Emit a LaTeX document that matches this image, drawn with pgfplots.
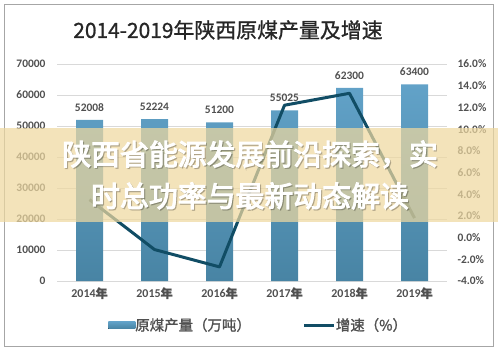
\documentclass[border=0pt]{standalone}
\usepackage{pgfplots}
\pgfplotsset{compat=1.18}
\usepackage{fontspec}
\setmainfont{Carlito}
\newfontfamily\cjk{Noto Sans CJK SC}
\newfontfamily\cjkb{Noto Sans CJK SC}[FakeBold=1.5]
\newfontfamily\cjkt{Noto Sans CJK SC}[FakeBold=1]
\newfontfamily\cjkheavy{Noto Sans CJK SC}[FakeBold=3.5]
\newcommand\lp{\makebox[1em][r]{（}}
\newcommand\rp{\makebox[1em][l]{）}}
\newcommand\lf{\cjkb\fontsize{14.5}{16}\selectfont}
\definecolor{bartop}{RGB}{98,162,200}
\definecolor{barbot}{RGB}{72,132,164}
\definecolor{linec}{RGB}{17,77,101}
\definecolor{lab}{RGB}{80,80,80}
\definecolor{gridc}{RGB}{217,217,217}
\definecolor{band}{RGB}{238,216,160}
\begin{document}
\begin{tikzpicture}[x=1bp,y=1bp]
\path (0,0) rectangle (498,351);
\draw[black!35] (4.5,5) rectangle (493.5,347);
\node[font=\cjkt\fontsize{21}{24}\selectfont, text=black!85] at (228,321) {2014-2019年陕西原煤产量及增速};
\begin{axis}[at={(57bp,70bp)}, anchor=south west, scale only axis,
  width=390bp, height=217bp,
  xmin=-0.5, xmax=5.5, ymin=0, ymax=70000,
  ytick={0,10000,...,70000},
  scaled y ticks=false,
  xtick={0,...,5},
  xticklabels={2014{\cjkb 年},2015{\cjkb 年},2016{\cjkb 年},2017{\cjkb 年},2018{\cjkb 年},2019{\cjkb 年}},
  /pgf/number format/assume math mode=true,
  /pgf/number format/1000 sep={},
  axis line style={draw=none},
  major tick length=0pt,
  ymajorgrids, grid style={gridc, line width=0.8bp},
  yticklabel style={font=\bfseries\fontsize{11.5}{13}\selectfont, text=lab, xshift=-8bp},
  xticklabel style={font=\bfseries\fontsize{12}{14}\selectfont, text=lab, yshift=-3bp},
  nodes near coords,
  every node near coord/.append style={font=\bfseries\fontsize{11.5}{13}\selectfont, text=lab, anchor=center, yshift=12.5bp},
  legend style={at={(0.517,-0.203)}, anchor=center, legend columns=2, draw=none, fill=none,
    font=\lf, text=lab,
    /tikz/every even column/.append style={column sep=50bp},
    /tikz/every odd column/.append style={column sep=-2bp}},
]
\addplot[ybar, bar width=27bp, draw=none, top color=bartop, bottom color=barbot,
  legend image code/.code={\fill[top color=bartop, bottom color=barbot] (-2bp,-3.5bp) rectangle (25bp,3.5bp);}]
  coordinates {(0,52008) (1,52224) (2,51200) (3,55025) (4,62300) (5,63400)};
\addlegendentry{\lf 原煤产量\lp 万吨\rp}
\addlegendimage{legend image code/.code={\draw[line width=3bp, linec] (-2bp,0bp) -- (28bp,0bp);}}
\addlegendentry{\lf 增速\lp\%\rp}
\end{axis}
\begin{axis}[at={(57bp,70bp)}, anchor=south west, scale only axis,
  width=390bp, height=217bp,
  xmin=-0.5, xmax=5.5, ymin=-4, ymax=16,
  ytick={-4,-2,...,16},
  axis x line=none, axis y line*=right,
  y axis line style={draw=none},
  major tick length=0pt,
  /pgf/number format/assume math mode=true,
  yticklabel={\pgfmathprintnumber[fixed,fixed zerofill,precision=1]{\tick}\%},
  yticklabel style={font=\bfseries\fontsize{11.5}{13}\selectfont, text=lab, xshift=7bp},
]
\addplot[line width=3bp, linec, no markers, line join=round]
  coordinates {(0,3.5) (1,-1.1) (2,-2.7) (3,12.2) (4,13.3) (5,1.8)};
\end{axis}
\fill[band, opacity=0.72] (0,129) rectangle (498,223);
\node[text=black, opacity=0.18, font=\cjkheavy\fontsize{29}{42}\selectfont, align=center] at (251.2,174.8)
  {陕西省能源发展前沿探索，实\\时总功率与最新动态解读};
\node[text=white, font=\cjkheavy\fontsize{29}{42}\selectfont, align=center] at (250,176)
  {陕西省能源发展前沿探索，实\\时总功率与最新动态解读};
\end{tikzpicture}
\end{document}
